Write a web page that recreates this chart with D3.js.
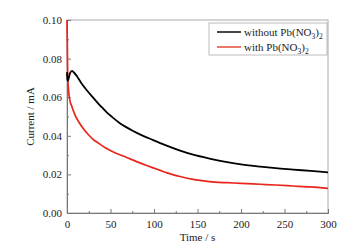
<!DOCTYPE html>
<html>
<head>
<meta charset="utf-8">
<script src="https://cdn.jsdelivr.net/npm/d3@7"></script>
<style>
  body { margin: 0; background: #fff; }
  text { font-family: "Liberation Serif", "Times New Roman", serif; fill: #222; }
</style>
</head>
<body>
<div id="chart"></div>
<script>
// time in seconds, current in mA
var timeWithout = [0, 0.5, 1, 2, 3.5, 5.7, 8, 12, 17, 23, 29, 35, 40, 46, 52, 60, 68, 76, 85, 99, 113, 130, 145, 165, 184, 200, 222, 240, 260, 280, 300];
var currentWithout = [0.073, 0.069, 0.0685, 0.070, 0.0725, 0.0736, 0.0728, 0.0705, 0.0670, 0.0635, 0.0603, 0.0572, 0.0548, 0.0520, 0.0497, 0.0468, 0.0445, 0.0425, 0.0405, 0.0378, 0.0352, 0.0323, 0.0302, 0.0281, 0.0264, 0.0252, 0.0240, 0.0232, 0.0225, 0.0218, 0.0211];

var timeWith = [0, 0.3, 0.8, 1.9, 3.5, 5.7, 9, 13.4, 18, 25, 30, 36.4, 45, 55, 68.6, 80, 90, 99, 107, 115, 130, 145, 157, 170, 184, 200, 222, 240, 260, 280, 300];
var currentWith = [0.100, 0.090, 0.0715, 0.063, 0.058, 0.0551, 0.051, 0.0473, 0.0442, 0.0404, 0.0382, 0.0361, 0.0335, 0.0312, 0.0288, 0.0266, 0.0249, 0.0234, 0.0221, 0.0208, 0.0189, 0.0174, 0.0166, 0.0160, 0.0157, 0.0154, 0.0149, 0.0145, 0.0140, 0.0135, 0.0128];

var xTicks = [0, 50, 100, 150, 200, 250, 300];
var yTicks = [0.00, 0.02, 0.04, 0.06, 0.08, 0.10];

var svg = d3.select("#chart").append("svg")
    .attr("width", 360)
    .attr("height", 248);

var margin = {left: 67, right: 32, top: 20, bottom: 35};
var width = 360 - margin.left - margin.right;
var height = 248 - margin.top - margin.bottom;

var chart = svg.append("g")
    .attr("transform", "translate(" + margin.left + "," + margin.top + ")");

var x = d3.scaleLinear().domain([0, 300]).range([0, width]);
var y = d3.scaleLinear().domain([0, 0.10]).range([height, 0]);

var axisColor = "#777";

// frame on top and right
chart.append("rect")
    .attr("width", width)
    .attr("height", height)
    .attr("fill", "none")
    .attr("stroke", "#aaa")
    .attr("stroke-width", 1);

// minor ticks
var xAxisMinor = d3.axisBottom(x).tickValues(d3.range(25, 300, 50)).tickSize(-2).tickFormat("");
var yAxisMinor = d3.axisLeft(y).tickValues(d3.range(0.01, 0.1, 0.02)).tickSize(-2).tickFormat("");

chart.append("g").attr("transform", "translate(0," + height + ")").call(xAxisMinor);
chart.append("g").call(yAxisMinor);

var xAxis = d3.axisBottom(x).tickValues(xTicks).tickSize(-4).tickPadding(7).tickSizeOuter(0);
var yAxis = d3.axisLeft(y).tickValues(yTicks).tickSize(-4).tickPadding(5).tickSizeOuter(0)
    .tickFormat(d3.format(".2f"));

chart.append("g").attr("class", "axis").attr("transform", "translate(0," + height + ")").call(xAxis);
chart.append("g").attr("class", "axis").call(yAxis);

chart.selectAll(".domain, .tick line").attr("stroke", axisColor);
chart.selectAll(".axis text")
    .style("font-family", "Liberation Serif, serif")
    .style("font-size", "11px")
    .attr("fill", "#222");

// lines
var line = d3.line()
    .x(function(d) { return x(d[0]); })
    .y(function(d) { return y(d[1]); })
    .curve(d3.curveMonotoneX);

chart.append("path")
    .datum(d3.zip(timeWith, currentWith))
    .attr("fill", "none")
    .attr("stroke", "#e8261c")
    .attr("stroke-width", 1.7)
    .attr("d", line);

chart.append("path")
    .datum(d3.zip(timeWithout, currentWithout))
    .attr("fill", "none")
    .attr("stroke", "#000")
    .attr("stroke-width", 1.8)
    .attr("d", line);

// axis titles
svg.append("text")
    .attr("x", margin.left + width / 2)
    .attr("y", 241)
    .attr("text-anchor", "middle")
    .style("font-size", "11px")
    .text("Time / s");

svg.append("text")
    .attr("transform", "translate(34," + (margin.top + height / 2) + ") rotate(-90)")
    .attr("text-anchor", "middle")
    .style("font-size", "11px")
    .text("Current / mA");

// legend
var legend = svg.append("g").attr("transform", "translate(209,23)");
legend.append("rect")
    .attr("width", 118)
    .attr("height", 32)
    .attr("fill", "#fff")
    .attr("stroke", "#aaa")
    .attr("stroke-width", 0.8);

var entries = [
    {label: "without Pb(NO", color: "#333"},
    {label: "with Pb(NO", color: "#e86a5c"}
];

entries.forEach(function(e, i) {
    var row = legend.append("g").attr("transform", "translate(0," + (9 + i * 15) + ")");
    row.append("line")
        .attr("x1", 8).attr("x2", 32)
        .attr("y1", 0).attr("y2", 0)
        .attr("stroke", e.color)
        .attr("stroke-width", 1.8);
    var t = row.append("text")
        .attr("x", 35)
        .attr("y", 4)
        .style("font-size", "11px");
    t.append("tspan").text(e.label);
    t.append("tspan").attr("dy", 3).style("font-size", "7.5px").text("3");
    t.append("tspan").attr("dy", -3).text(")");
    t.append("tspan").attr("dy", 3).style("font-size", "7.5px").text("2");
});
</script>
</body>
</html>
